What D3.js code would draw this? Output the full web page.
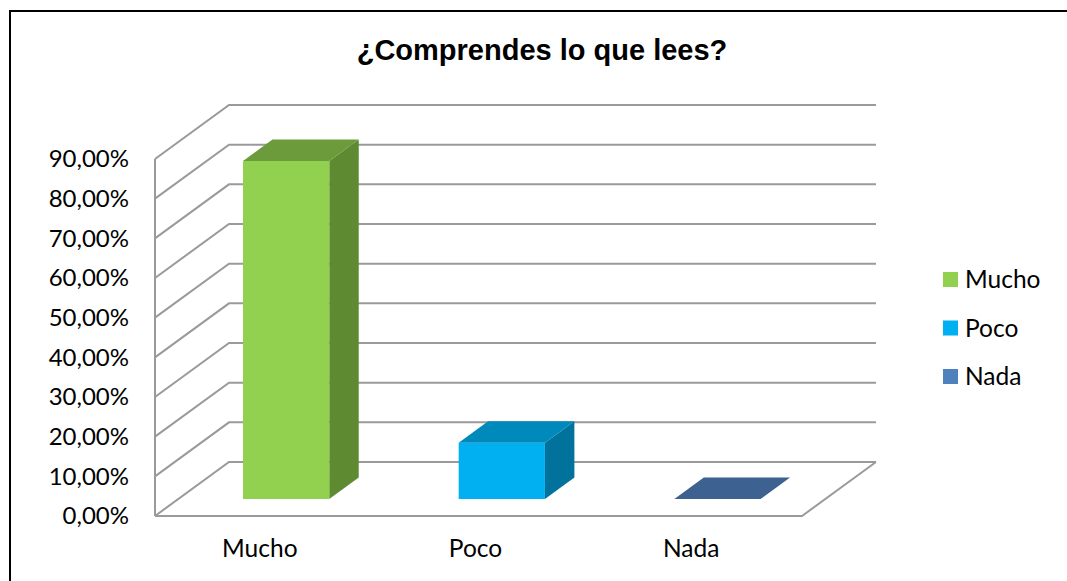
<!DOCTYPE html>
<html>
<head>
<meta charset="utf-8">
<script src="https://cdn.jsdelivr.net/npm/d3@7"></script>
<style>
  body { margin: 0; background: #fff; }
  svg text { font-family: Lato, "Open Sans", sans-serif; fill: #000; }
</style>
</head>
<body>
<svg id="chart"></svg>
<script>
// data
const categories = ["Mucho", "Poco", "Nada"];
const values = [0.852, 0.142, 0];
const tickValues = [0, 0.1, 0.2, 0.3, 0.4, 0.5, 0.6, 0.7, 0.8, 0.9];
const chartTitle = "¿Comprendes lo que lees?";

const colors = {
  Mucho: {front: "#92D050", top: "#6C9B3B", side: "#5E8A32", legend: "#92D050"},
  Poco:  {front: "#00B0F0", top: "#0089BB", side: "#00729C", legend: "#00B0F0"},
  Nada:  {front: "#4F81BD", top: "#3D6190", side: "#34557F", legend: "#4F81BD"}
};

const width = 1067, height = 581;
const svg = d3.select("#chart").attr("width", width).attr("height", height);

// frame
svg.append("rect")
  .attr("x", 10).attr("y", 11)
  .attr("width", 1070).attr("height", 600)
  .attr("fill", "none").attr("stroke", "#000").attr("stroke-width", 2);

// title
svg.append("text")
  .attr("x", 542).attr("y", 60)
  .attr("text-anchor", "middle")
  .style("font-family", "'Liberation Sans', Arial, sans-serif")
  .style("font-weight", "bold")
  .style("font-size", "29px")
  .text(chartTitle);

// front plane scales
const x = d3.scaleBand().domain(categories).range([155, 802]);
const y = d3.scaleLinear().domain([0, 0.9]).range([516, 159]);
// depth: 0 = front, 1 = back wall
const depthX = d3.scaleLinear().domain([0, 1]).range([0, 74]);
const depthY = d3.scaleLinear().domain([0, 1]).range([0, -54]);

const proj = (px, v, d) => [px + depthX(d), y(v) + depthY(d)];
const gridColor = "#9A9A9A";

const grid = svg.append("g").attr("fill", "none").attr("stroke", gridColor).attr("stroke-width", 2);

// side wall diagonals + back wall lines
tickValues.forEach(t => {
  const a = proj(x.range()[0], t, 0);
  const b = proj(x.range()[0], t, 1);
  const c = proj(x.range()[1], t, 1);
  grid.append("path").attr("d", d3.line()([a, b, c]));
});
// front axis line
grid.append("path").attr("d", d3.line()([proj(155, 0, 0), proj(155, 0.9, 0)]));
// floor front edge and right edge
grid.append("path").attr("d", d3.line()([proj(155, 0, 0), proj(802, 0, 0), proj(802, 0, 1)]));

// y tick labels
svg.append("g").selectAll("text")
  .data(tickValues)
  .join("text")
  .attr("x", 129)
  .attr("y", d => y(d))
  .attr("dy", "0.35em")
  .attr("text-anchor", "end")
  .style("font-size", "24px")
  .text(d => d3.format(".2f")(d * 100).replace(".", ",") + "%");

// category labels
svg.append("g").selectAll("text")
  .data(categories)
  .join("text")
  .attr("x", d => x(d) + x.bandwidth() / 2 - 3)
  .attr("y", 557)
  .attr("text-anchor", "middle")
  .style("font-size", "24.5px")
  .text(d => d);

// bars
const d0 = 0.315, d1 = 0.713;
const barW = x.bandwidth() * 0.40;
const bars = svg.append("g");
categories.forEach((c, i) => {
  const v = values[i];
  const cx = x(c) + x.bandwidth() / 2;
  const xl = cx - barW / 2, xr = cx + barW / 2;
  const col = colors[c];
  const g = bars.append("g");
  const poly = (pts, fill) => g.append("path").attr("d", d3.line()(pts) + "Z").attr("fill", fill);
  if (v > 0) {
    // side face
    poly([proj(xr, 0, d0), proj(xr, 0, d1), proj(xr, v, d1), proj(xr, v, d0)], col.side);
    // front face
    poly([proj(xl, 0, d0), proj(xr, 0, d0), proj(xr, v, d0), proj(xl, v, d0)], col.front);
  }
  // top face
  poly([proj(xl, v, d0), proj(xr, v, d0), proj(xr, v, d1), proj(xl, v, d1)], col.top);
});

// legend
const legend = svg.append("g").attr("transform", "translate(943,272)");
const items = legend.selectAll("g")
  .data(categories)
  .join("g")
  .attr("transform", (d, i) => `translate(0,${i * 48.5})`);
items.append("rect")
  .attr("width", 15).attr("height", 15)
  .attr("fill", d => colors[d].legend);
items.append("text")
  .attr("x", 22).attr("y", 7.5)
  .attr("dy", "0.36em")
  .style("font-size", "24.5px")
  .text(d => d);
</script>
</body>
</html>
